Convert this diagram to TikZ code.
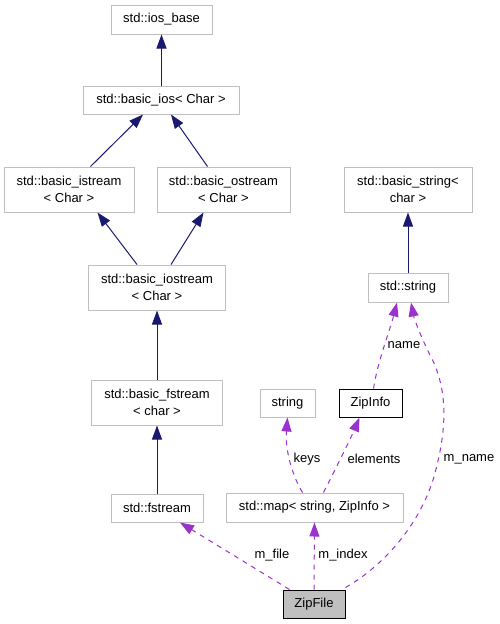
\documentclass[tikz,border=0pt]{standalone}
\usepackage{fontspec}
\setmainfont{Liberation Sans}
\usetikzlibrary{arrows.meta}
\definecolor{boxgray}{HTML}{BFBFBF}
\definecolor{inhblue}{HTML}{191970}
\definecolor{usepurple}{HTML}{9A32CD}
\begin{document}
\begin{tikzpicture}[x=1pt,y=-1pt,
  every node/.style={font=\fontsize{13}{17}\selectfont},
  box/.style={draw=boxgray,line width=1pt,fill=white,inner sep=0pt,align=center},
  blackbox/.style={draw=black,line width=1pt,fill=white,inner sep=0pt,align=center},
  inh/.style={draw=inhblue,line width=1pt,-{Triangle[length=14pt,width=10pt]}},
  uses/.style={draw=usepurple,line width=1pt,dash pattern=on 5pt off 5pt,-{Triangle[length=14pt,width=10pt]}},
  lbl/.style={inner sep=1pt}]
\useasboundingbox (0,0) rectangle (500,624);

\node[box,minimum width=101pt,minimum height=29pt] (iosbase) at (161.5,19.5) {std::ios\_base};
\node[box,minimum width=156pt,minimum height=28pt] (basicios) at (161,100) {std::basic\_ios{\textless} Char {\textgreater}};
\node[box,minimum width=130pt,minimum height=45pt] (istream) at (69,189.5) {std::basic\_istream\\{\textless} Char {\textgreater}};
\node[box,minimum width=133pt,minimum height=45pt] (ostream) at (223.5,189.5) {std::basic\_ostream\\{\textless} Char {\textgreater}};
\node[box,minimum width=137pt,minimum height=45pt] (iostream) at (157,287.5) {std::basic\_iostream\\{\textless} Char {\textgreater}};
\node[box,minimum width=131pt,minimum height=45pt] (bfstream) at (157,402.5) {std::basic\_fstream\\{\textless} char {\textgreater}};
\node[box,minimum width=92pt,minimum height=28pt] (fstream) at (157,508) {std::fstream};
\node[box,minimum width=128pt,minimum height=45pt] (bstring) at (408,189.5) {std::basic\_string{\textless}\\char {\textgreater}};
\node[box,minimum width=80pt,minimum height=29pt] (stdstring) at (408,287.5) {std::string};
\node[box,minimum width=55pt,minimum height=28pt] (string) at (287.5,403) {string};
\node[blackbox,minimum width=63pt,minimum height=28pt] (zipinfo) at (370.5,403) {ZipInfo};
\node[box,minimum width=177pt,minimum height=29pt] (map) at (314.5,507.5) {std::map{\textless} string, ZipInfo {\textgreater}};
\node[draw=black,line width=1pt,fill=boxgray,inner sep=0pt,minimum width=62pt,minimum height=28pt] (zipfile) at (314,604) {ZipFile};

% inheritance
\draw[inh] (basicios.north -| iosbase) -- (iosbase.south);
\draw[inh] ([xshift=-44pt]istream.north east) -- ([xshift=-18pt]basicios.south);
\draw[inh] ([xshift=-16pt]ostream.north) -- ([xshift=10pt]basicios.south);
\draw[inh] ([xshift=-20pt]iostream.north) -- ([xshift=-37pt]istream.south east);
\draw[inh] ([xshift=14pt]iostream.north) -- ([xshift=-20pt]ostream.south);
\draw[inh] (bfstream.north) -- (iostream.south);
\draw[inh] (fstream.north) -- (bfstream.south);
\draw[inh] (stdstring.north) -- (bstring.south);

% usage
\draw[uses] ([xshift=7pt]zipfile.north west) -- ([xshift=23pt]fstream.south);
\node[lbl] (lmfile) at (272,555) {m\_file};
\draw[uses] (zipfile.north) -- (map.south);
\node[lbl] (lmindex) at (343,555) {m\_index};
\draw[uses] ([yshift=2pt]zipfile.north east) .. controls (385,565) and (425,520) .. (437,465)
  .. controls (448,420) and (446,385) .. (430,355)
  .. controls (420,335) and (414,318) .. ([xshift=3pt]stdstring.south);
\node[lbl] (lmname) at (469,459) {m\_name};
\draw[uses] ([xshift=-12pt]map.north) .. controls (292,475) and (285,450) .. (string.south);
\node[lbl] (lkeys) at (307,459) {keys};
\draw[uses] ([xshift=9pt]map.north) .. controls (335,470) and (350,440) .. ([xshift=-11pt]zipinfo.south);
\node[lbl] (lelements) at (374,459) {elements};
\draw[uses] ([xshift=3pt]zipinfo.north) .. controls (378,360) and (390,330) .. ([xshift=-11pt]stdstring.south);
\node[lbl] (lname) at (404,345) {name};
\end{tikzpicture}
\end{document}
